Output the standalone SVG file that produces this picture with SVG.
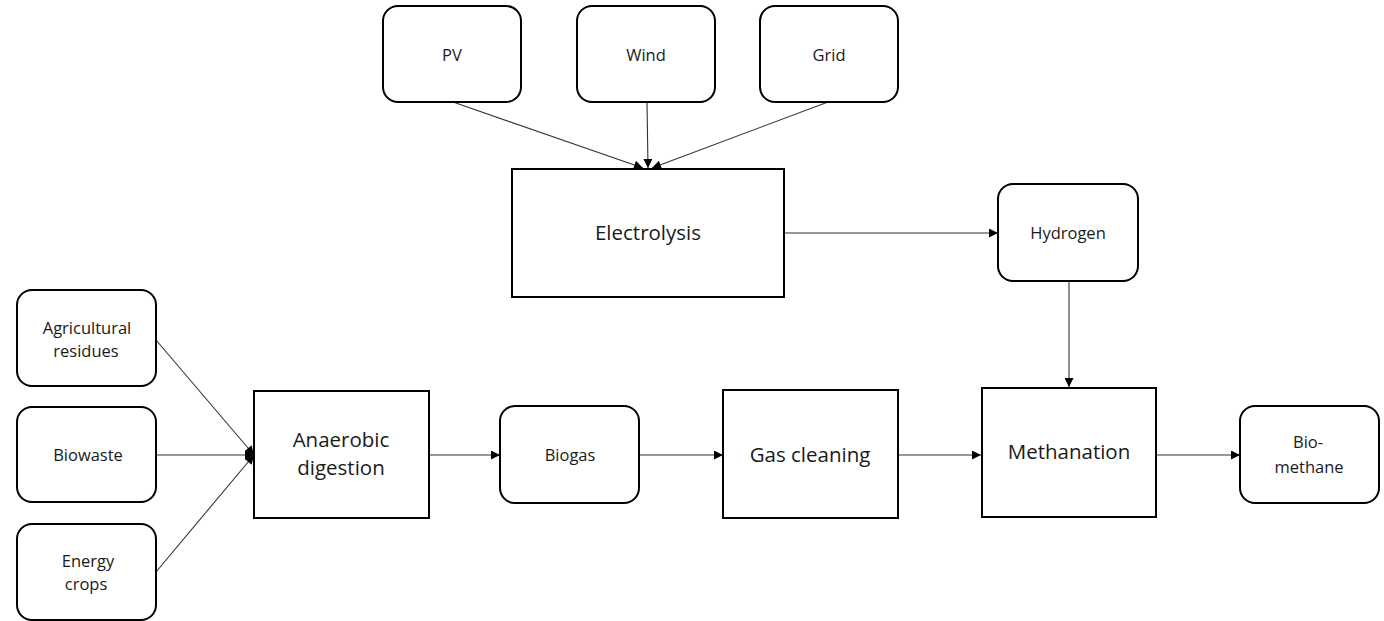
<svg xmlns="http://www.w3.org/2000/svg" width="1384" height="621" viewBox="0 0 1384 621">
<style>
.box{fill:#fff;stroke:#000;stroke-width:2}
.t{font-family:"Open Sans","Liberation Sans",sans-serif;fill:#1a1a1a;text-anchor:middle}
.s{font-size:16.5px}
.l{font-size:20.5px}
.c{stroke:#333;stroke-width:1.1;fill:none;marker-end:url(#ah)}
</style>
<defs>
<marker id="ah" viewBox="0 0 10 10" refX="10" refY="5" markerWidth="11" markerHeight="9" markerUnits="userSpaceOnUse" orient="auto">
<path d="M0,0 L10,5 L0,10 z" fill="#000"/>
</marker>
</defs>
<rect width="1384" height="621" fill="#fff"/>
<g id="connectors">
<line class="c" x1="453" y1="102" x2="643" y2="168"/>
<line class="c" x1="647" y1="102" x2="648" y2="168"/>
<line class="c" x1="828" y1="102" x2="652" y2="168"/>
<line class="c" x1="785" y1="233" x2="998" y2="233"/>
<line class="c" x1="1069" y1="281" x2="1069" y2="387"/>
<line class="c" x1="156" y1="340" x2="254" y2="455"/>
<line class="c" x1="156" y1="455" x2="254" y2="455"/>
<line class="c" x1="156" y1="572" x2="254" y2="455"/>
<line class="c" x1="429" y1="455" x2="500" y2="455"/>
<line class="c" x1="639" y1="455" x2="723" y2="455"/>
<line class="c" x1="898" y1="455" x2="981" y2="455"/>
<line class="c" x1="1156" y1="455" x2="1240" y2="455"/>
</g>
<g id="pv"><rect class="box" x="383" y="6" width="138" height="96" rx="15"/><text class="t s" x="452" y="61">PV</text></g>
<g id="wind"><rect class="box" x="577" y="6" width="138" height="96" rx="15"/><text class="t s" x="646" y="61">Wind</text></g>
<g id="grid"><rect class="box" x="760" y="6" width="138" height="96" rx="15"/><text class="t s" x="829" y="61">Grid</text></g>
<g id="electrolysis"><rect class="box" x="512" y="169" width="272" height="128"/><text class="t l" x="648" y="240">Electrolysis</text></g>
<g id="hydrogen"><rect class="box" x="998" y="184" width="140" height="97" rx="15"/><text class="t s" x="1068" y="239">Hydrogen</text></g>
<g id="agricultural"><rect class="box" x="17" y="290" width="139" height="96" rx="15"/><text class="t s" x="87" y="334">Agricultural</text><text class="t s" x="86" y="357">residues</text></g>
<g id="biowaste"><rect class="box" x="17" y="407" width="139" height="95" rx="15"/><text class="t s" x="88" y="461">Biowaste</text></g>
<g id="energy"><rect class="box" x="17" y="524" width="139" height="96" rx="15"/><text class="t s" x="88" y="567">Energy</text><text class="t s" x="86" y="590">crops</text></g>
<g id="anaerobic"><rect class="box" x="254" y="391" width="175" height="127"/><text class="t l" x="341" y="447">Anaerobic</text><text class="t l" x="341" y="475">digestion</text></g>
<g id="biogas"><rect class="box" x="500" y="406" width="139" height="97" rx="15"/><text class="t s" x="570" y="461">Biogas</text></g>
<g id="gascleaning"><rect class="box" x="723" y="390" width="175" height="128"/><text class="t l" x="810" y="462">Gas cleaning</text></g>
<g id="methanation"><rect class="box" x="982" y="388" width="174" height="129"/><text class="t l" x="1069" y="459">Methanation</text></g>
<g id="biomethane"><rect class="box" x="1240" y="406" width="139" height="97" rx="15"/><text class="t s" x="1308" y="448">Bio-</text><text class="t s" x="1309" y="473">methane</text></g>
</svg>
